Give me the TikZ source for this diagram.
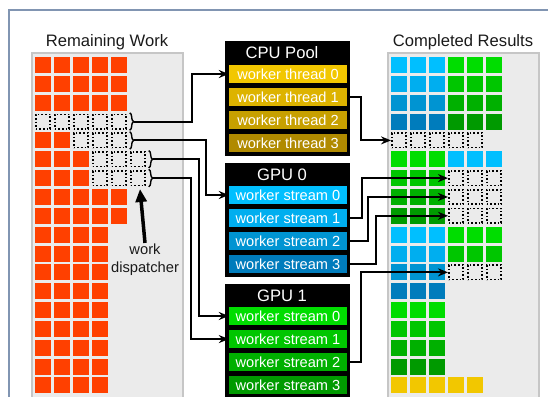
\documentclass[tikz,border=0pt]{standalone}
\usepackage{fontspec}
\setmainfont{Liberation Sans}
\usetikzlibrary{positioning,calc,arrows.meta,decorations.pathreplacing}

\definecolor{workred}{HTML}{FF4000}
\definecolor{cputhr0}{HTML}{F2C700}
\definecolor{cputhr1}{HTML}{DDB300}
\definecolor{cputhr2}{HTML}{C7A000}
\definecolor{cputhr3}{HTML}{B08A00}
\definecolor{gpublue0}{HTML}{00BFFF}
\definecolor{gpublue1}{HTML}{00AEEF}
\definecolor{gpublue2}{HTML}{0094D2}
\definecolor{gpublue3}{HTML}{007CBC}
\definecolor{gpugreen0}{HTML}{00DD00}
\definecolor{gpugreen1}{HTML}{00C600}
\definecolor{gpugreen2}{HTML}{00B000}
\definecolor{gpugreen3}{HTML}{009A00}
\definecolor{panelfill}{HTML}{EBEBEB}
\definecolor{panelline}{HTML}{C6C6C6}
\definecolor{framecol}{HTML}{8195B2}
\definecolor{headtext}{HTML}{1A1A1A}

\begin{document}
\begin{tikzpicture}[
                        x=1pt, y=-1pt,
                        frame/.style={
                            draw=framecol,
                            line width=2pt
                        },
                        panel/.style={
                            draw=panelline,
                            fill=panelfill,
                            line width=1.5pt
                        },
                        heading/.style={
                            anchor=base,
                            inner sep=0pt,
                            text=headtext,
                            font=\fontsize{16.6}{20}\selectfont
                        },
                        pool/.style={
                            rectangle,
                            fill=black,
                            inner sep=0pt,
                            minimum width=125pt,
                            minimum height=114pt
                        },
                        pooltitle/.style={
                            anchor=base,
                            inner sep=0pt,
                            text=white,
                            font=\fontsize{16.6}{20}\selectfont
                        },
                        worker/.style={
                            rectangle,
                            fill=#1,
                            text=white,
                            inner sep=0pt,
                            minimum width=118pt,
                            minimum height=18pt,
                            font=\fontsize{14.6}{16}\selectfont
                        },
                        cell/.style={
                            rectangle,
                            fill=#1,
                            inner sep=0pt,
                            minimum size=16pt
                        },
                        todo/.style={
                            rectangle,
                            draw,
                            line width=1.6pt,
                            dash pattern=on 1.6pt off 2pt,
                            inner sep=0pt,
                            minimum size=14.4pt
                        },
                        brace/.style={
                            draw,
                            line width=1.4pt,
                            decorate,
                            decoration={brace, amplitude=4pt}
                        },
                        line/.style={
                            draw,
                            line width=2pt,
                            -{Stealth[length=10pt, width=8pt]}
                        },
                        push/.style={
                            draw,
                            line width=3.5pt,
                            -{Triangle[length=13pt, width=11pt]}
                        }]

                        \useasboundingbox (0,0) rectangle (548,396);
                        \draw [frame] (9,400) -- (9,10) -- (550,10);

                        % remaining work
                        \node (remaining_heading) [heading] at (107,47) {Remaining Work};
                        \draw [panel] (32,53) rectangle (183,400);
                        \foreach \row/\last in {0/5,1/5,2/5,4/2,5/3,6/3,7/5,8/5,9/4,10/4,11/4,12/4,13/4,14/4,15/4,16/4,17/4}
                            \foreach \col in {1,...,\last}
                                \node (remaining_\row_\col) [cell=workred] at ({24+19*\col},{65+18.85*\row}) {};
                        \foreach \row/\first/\last in {3/1/5,4/3/5,5/4/6,6/4/6}
                            \foreach \col in {\first,...,\last}
                                \node (remaining_\row_\col) [todo] at ({24+19*\col},{65+18.85*\row}) {};
                        \foreach \row/\last in {3/5,4/5,5/6,6/6} {
                            \draw [brace] ($(remaining_\row_\last.north east)+(2.7,-0.7)$) -- ($(remaining_\row_\last.south east)+(2.7,0.7)$);
                            \coordinate (split_\row) at ($(remaining_\row_\last.east)+(6.7,0)$);
                        }

                        \node (dispatcher) [align=center, inner sep=1pt, text=headtext, font=\fontsize{14.7}{18}\selectfont] at (145,260) {work\\dispatcher};
                        \coordinate (dispatch_point) at (140,189);
                        \draw [push] (dispatcher.north) -- (dispatch_point);

                        % cpu pool
                        \node (cpu_pool) [pool] at (287.5,98.5) {};
                        \node (cpu_title) [pooltitle] at (282,59) {CPU Pool};
                        \node (cpu_thread_0) [worker=cputhr0] at (288,74) {worker thread 0};
                        \node (cpu_thread_1) [worker=cputhr1, below=4.67pt of cpu_thread_0] {worker thread 1};
                        \node (cpu_thread_2) [worker=cputhr2, below=4.67pt of cpu_thread_1] {worker thread 2};
                        \node (cpu_thread_3) [worker=cputhr3, below=4.67pt of cpu_thread_2] {worker thread 3};

                        % gpu 0
                        \node (gpu0) [pool] at (287.5,220) {};
                        \node (gpu0_title) [pooltitle] at (282,180) {GPU 0};
                        \node (gpu0_stream_0) [worker=gpublue0] at (288,195) {worker stream 0};
                        \node (gpu0_stream_1) [worker=gpublue1, below=4.67pt of gpu0_stream_0] {worker stream 1};
                        \node (gpu0_stream_2) [worker=gpublue2, below=4.67pt of gpu0_stream_1] {worker stream 2};
                        \node (gpu0_stream_3) [worker=gpublue3, below=4.67pt of gpu0_stream_2] {worker stream 3};

                        % gpu 1
                        \node (gpu1) [pool] at (287.5,341) {};
                        \node (gpu1_title) [pooltitle] at (282,301) {GPU 1};
                        \node (gpu1_stream_0) [worker=gpugreen0] at (288,316) {worker stream 0};
                        \node (gpu1_stream_1) [worker=gpugreen1, below=4.67pt of gpu1_stream_0] {worker stream 1};
                        \node (gpu1_stream_2) [worker=gpugreen2, below=4.67pt of gpu1_stream_1] {worker stream 2};
                        \node (gpu1_stream_3) [worker=gpugreen3, below=4.67pt of gpu1_stream_2] {worker stream 3};

                        % completed results
                        \node (completed_heading) [heading] at (463,47) {Completed Results};
                        \draw [panel] (388,53) rectangle (539,400);
                        \foreach \row/\first/\last/\tone in {0/1/3/gpublue0,0/4/6/gpugreen0,1/1/3/gpublue1,1/4/6/gpugreen1,
                                2/1/3/gpublue2,2/4/6/gpugreen2,3/1/3/gpublue3,3/4/6/gpugreen3,5/1/3/gpugreen0,5/4/6/gpublue0,
                                6/1/3/gpugreen1,7/1/3/gpugreen2,8/1/3/gpugreen3,9/1/3/gpublue0,9/4/6/gpugreen0,
                                10/1/3/gpublue1,10/4/6/gpugreen1,11/1/3/gpublue2,12/1/3/gpublue3,13/1/3/gpugreen0,
                                14/1/3/gpugreen1,15/1/3/gpugreen2,16/1/3/gpugreen3,17/1/5/cputhr0}
                            \foreach \col in {\first,...,\last}
                                \node (completed_\row_\col) [cell=\tone] at ({380+19*\col},{65+18.85*\row}) {};
                        \foreach \row/\first/\last in {4/1/5,6/4/6,7/4/6,8/4/6,11/4/6}
                            \foreach \col in {\first,...,\last}
                                \node (completed_\row_\col) [todo] at ({380+19*\col},{65+18.85*\row}) {};

                        % dispatch
                        \draw [line] (split_3) -- ++(58,0) |- (cpu_thread_0);
                        \draw [line] (split_4) -- ++(72,0) |- (gpu0_stream_0);
                        \draw [line] (split_5) -- ++(46,0) |- (gpu1_stream_0);
                        \draw [line] (split_6) -- ++(38,0) |- (gpu1_stream_1);

                        % results
                        \draw [line] (cpu_thread_1.east) -- ++(14,0) |- (completed_4_1);
                        \draw [line] (gpu0_stream_1.east) -- ++(15,0) |- (completed_6_4);
                        \draw [line] (gpu0_stream_2.east) -- ++(21,0) |- (completed_7_4);
                        \draw [line] (gpu0_stream_3.east) -- ++(29,0) |- (completed_8_4);
                        \draw [line] (gpu1_stream_2.east) -- ++(14,0) |- (completed_11_4);

                    \end{tikzpicture}
\end{document}
